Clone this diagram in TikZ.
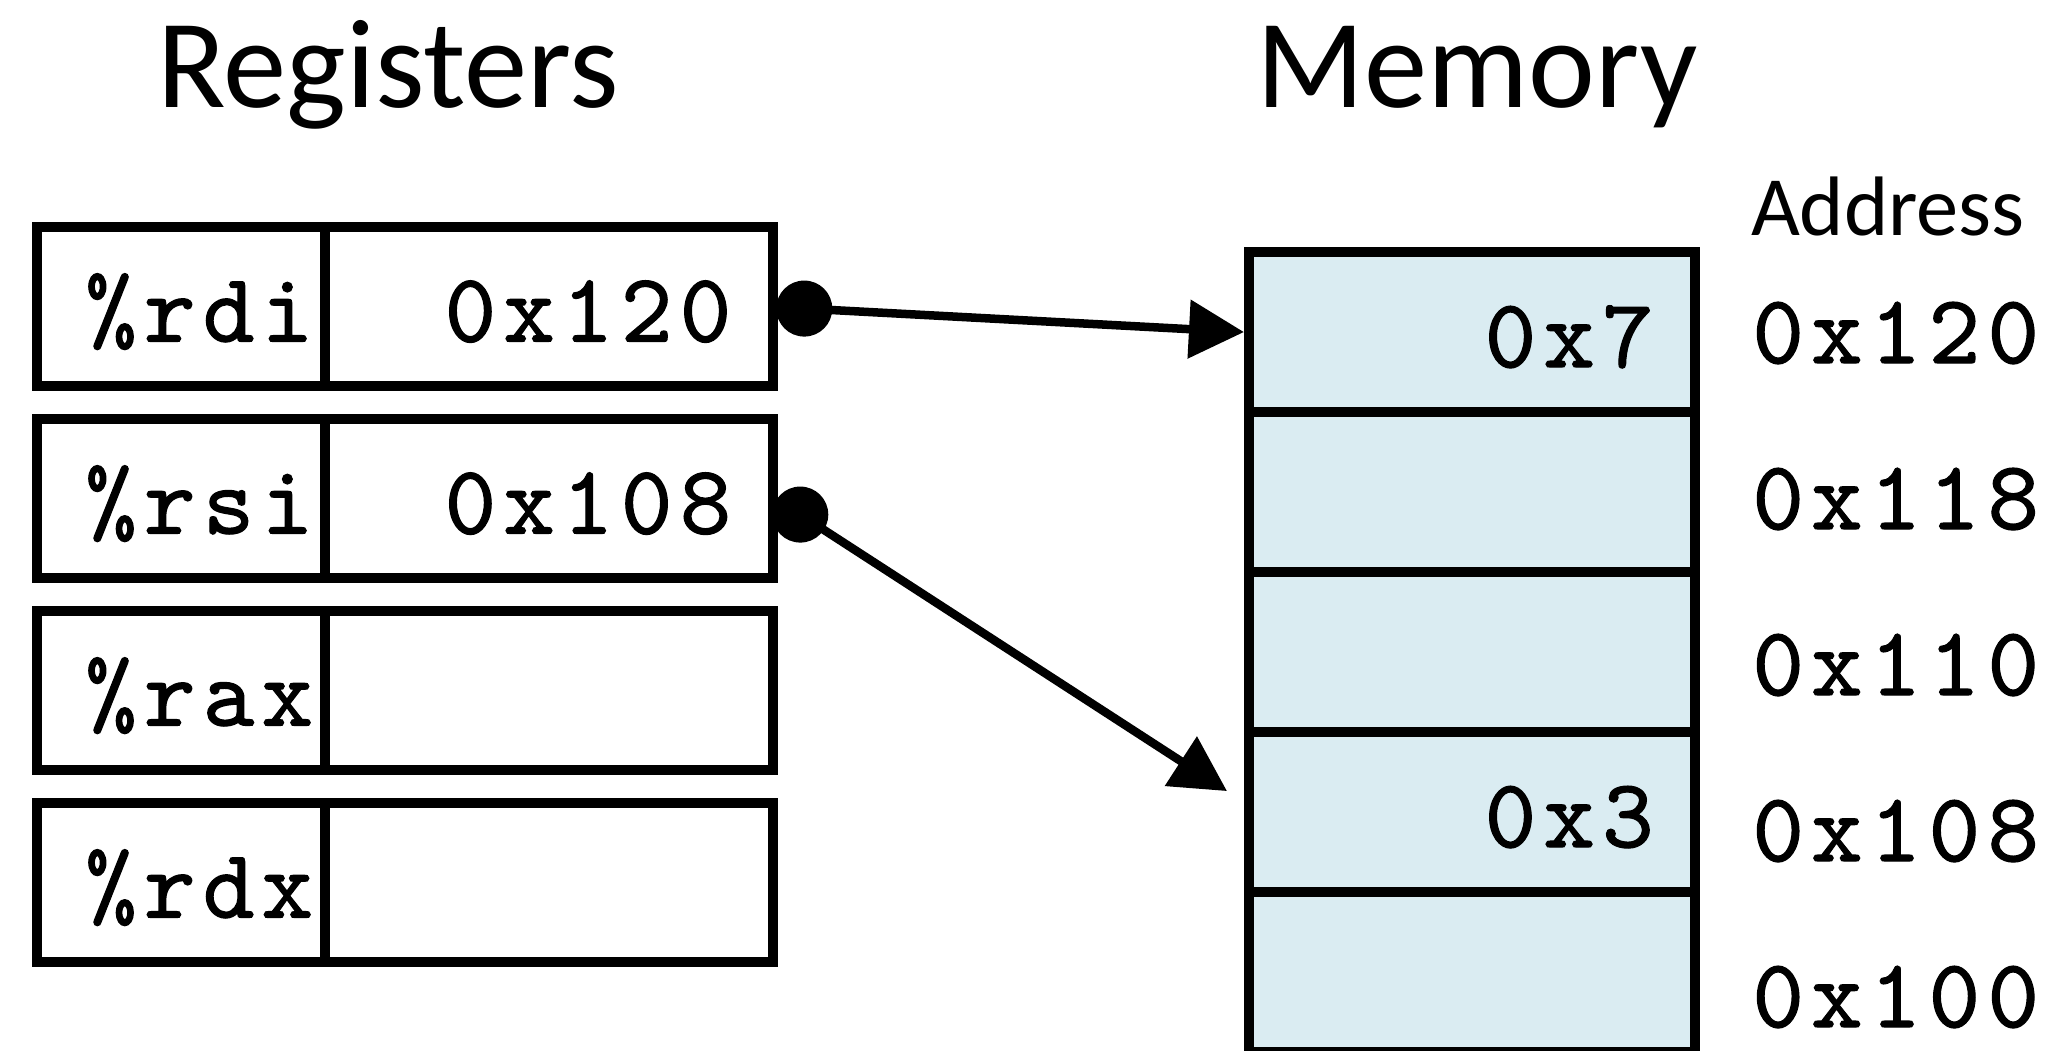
\documentclass[tikz,border=0pt]{standalone}
\usepackage{fontspec}
\setmainfont{Carlito}
\newfontfamily\monof{lmmono10-regular.otf}[LetterSpace=7.4,FakeBold=1.2]
\usetikzlibrary{arrows.meta}
\definecolor{memfill}{HTML}{DAECF2}
\begin{document}
\begin{tikzpicture}[x=0.01cm,y=-0.01cm,
  regcell/.style={draw=black, line width=0.1cm, minimum height=1.59cm, inner sep=0, outer sep=0, anchor=north west},
  namecell/.style={regcell, minimum width=2.88cm},
  valcell/.style={regcell, minimum width=4.48cm},
  memcell/.style={draw=black, fill=memfill, line width=0.1cm, minimum width=4.455cm, minimum height=1.60cm, inner sep=0, outer sep=0, anchor=north west},
  mono/.style={font=\monof\fontsize{27.9}{30}\selectfont, inner sep=0, outer sep=0},
  title/.style={font=\fontsize{36}{40}\selectfont, inner sep=0, anchor=base},
  ptr/.style={line width=0.085cm, -{Triangle[length=0.55cm,width=0.57cm]}}
]
\useasboundingbox (0,0) rectangle (2049,1050);
\clip (0,0) rectangle (2049,1050);

% titles
\node[title] (regT) at (388,107) {Registers};
\node[title] (memT) at (1477,107) {Memory};
\node[font=\fontsize{24}{28}\selectfont, inner sep=0, anchor=base] (addrT) at (1888,235) {Address};

% registers
\foreach \nm/\y in {rdi/227, rsi/419, rax/611, rdx/803}{
  \node[namecell] (\nm N) at (37,\y) {};
  \node[valcell] (\nm V) at (325,\y) {};
  \node[mono, anchor=base east] (\nm L) at ([shift={(-12,35)}]\nm N.east) {\%\nm};
}
\node[mono, anchor=base east] (rdiVal) at ([shift={(-42,35)}]rdiV.east) {0x120};
\node[mono, anchor=base east] (rsiVal) at ([shift={(-42,35)}]rsiV.east) {0x108};

% memory
\foreach \i/\y in {0/252, 1/412, 2/572, 3/732, 4/892}{
  \node[memcell] (m\i) at (1249,\y) {};
}
\node[mono, anchor=base east] (m0val) at ([shift={(-41,35)}]m0.east) {0x7};
\node[mono, anchor=base east] (m3val) at ([shift={(-41,35)}]m3.east) {0x3};

% addresses
\foreach \a/\y in {120/363, 118/529, 110/695, 108/861, 100/1027}{
  \node[mono, anchor=base east] (a\a) at (2039,\y) {0x\a};
}

% pointers
\coordinate (d1) at ([shift={(31,2)}]rdiV.east);
\coordinate (d2) at ([shift={(27,16)}]rsiV.east);
\draw[ptr] (d1) -- ([xshift=-0.05cm]m0.west);
\draw[ptr] (d2) -- ([shift={(-22,-21)}]m3.west);
\fill (d1) circle (0.28cm);
\fill (d2) circle (0.28cm);
\end{tikzpicture}
\end{document}
